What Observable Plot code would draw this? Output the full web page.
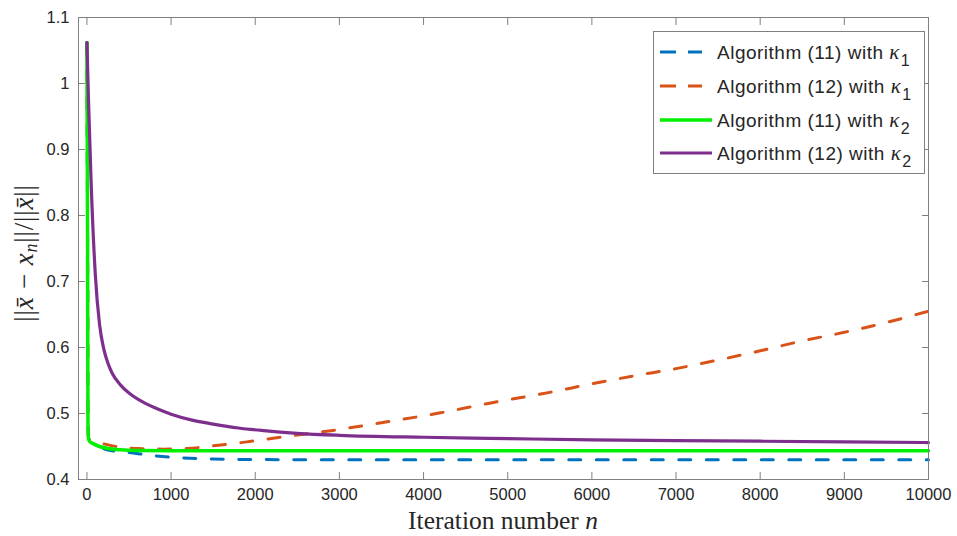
<!DOCTYPE html>
<html>
<head>
<meta charset="utf-8">
<script src="https://cdn.jsdelivr.net/npm/d3@7"></script>
<script src="https://cdn.jsdelivr.net/npm/@observablehq/plot@0.6"></script>
<style>
  body { margin: 0; background: #fff; }
  #chart { width: 957px; height: 536px; }
</style>
</head>
<body>
<div id="chart"></div>
<script>
// ---- data ----
const xTicks = [0, 1000, 2000, 3000, 4000, 5000, 6000, 7000, 8000, 9000, 10000];
const yTicks = [0.4, 0.5, 0.6, 0.7, 0.8, 0.9, 1, 1.1];

// Algorithm (11) with kappa_1 (blue dashed)
const blueN = [0, 8, 12, 20, 100, 250, 500, 800, 1100, 1500, 2000, 3000, 5000, 7000, 10000];
const blueV = [1.062, 0.75, 0.5, 0.462, 0.455, 0.4445, 0.441, 0.436, 0.433, 0.431, 0.4302, 0.430, 0.430, 0.430, 0.430];

// Algorithm (12) with kappa_1 (orange dashed)
const orangeN = [0, 8, 12, 20, 100, 200, 400, 600, 900, 1200, 1500, 1900, 2300, 2900, 3500, 4200, 4800, 5500, 6000, 6500, 7000, 7500, 8000, 8500, 9000, 9500, 10000];
const orangeV = [1.062, 0.75, 0.5, 0.462, 0.457, 0.454, 0.449, 0.447, 0.446, 0.447, 0.451, 0.457, 0.464, 0.474, 0.486, 0.501, 0.516, 0.532, 0.545, 0.557, 0.568, 0.581, 0.595, 0.610, 0.623, 0.638, 0.655];

// Algorithm (11) with kappa_2 (green solid)
const greenN = [0, 8, 12, 16, 30, 80, 150, 250, 400, 600, 1000, 3000, 10000];
const greenV = [1.062, 0.75, 0.5, 0.465, 0.458, 0.454, 0.450, 0.447, 0.445, 0.444, 0.4437, 0.4435, 0.4435];

// Algorithm (12) with kappa_2 (purple solid)
const purpleN = [0, 20, 50, 100, 150, 200, 250, 300, 400, 500, 600, 700, 800, 1000, 1250, 1500, 1800, 2100, 2500, 3000, 4000, 5000, 6000, 7000, 8000, 9000, 10000];
const purpleV = [1.062, 0.97, 0.85, 0.71, 0.635, 0.598, 0.576, 0.561, 0.543, 0.531, 0.522, 0.515, 0.509, 0.499, 0.490, 0.484, 0.478, 0.474, 0.470, 0.467, 0.464, 0.462, 0.460, 0.459, 0.458, 0.457, 0.456];

const seriesNames = ["Algorithm (11) with ", "Algorithm (12) with ", "Algorithm (11) with ", "Algorithm (12) with "];
const seriesSub = ["1", "1", "2", "2"];
const seriesColors = ["#0072BD", "#D95319", "#00F000", "#7E2F8E"];
const seriesDash = ["12,15.5", "12,15.5", null, null];

const toRows = (N, V) => N.map((n, i) => ({n, v: V[i]}));
const blue = toRows(blueN, blueV);
const orange = toRows(orangeN, orangeV);
const green = toRows(greenN, greenV);
const purple = toRows(purpleN, purpleV);

const frameColor = "#808080";
const textColor = "#262626";
const W = 957, H = 536, mL = 78, mR = 29, mT = 17, mB = 57;
const tickLen = 7;
const blank = () => "";

const chart = Plot.plot({
  width: W,
  height: H,
  marginLeft: mL,
  marginRight: mR,
  marginTop: mT,
  marginBottom: mB,
  style: {fontFamily: "'Liberation Sans', Arial, Helvetica, sans-serif", fontSize: "16.5px", color: textColor, background: "#fff"},
  x: {domain: [-100, 10000], label: null},
  y: {domain: [0.4, 1.1], label: null},
  marks: [
    Plot.line(blue, {x: "n", y: "v", stroke: seriesColors[0], strokeWidth: 3, strokeDasharray: seriesDash[0], curve: "monotone-x"}),
    Plot.line(orange, {x: "n", y: "v", stroke: seriesColors[1], strokeWidth: 3, strokeDasharray: seriesDash[1], curve: "monotone-x"}),
    Plot.line(green, {x: "n", y: "v", stroke: seriesColors[2], strokeWidth: 3.5, curve: "monotone-x"}),
    Plot.line(purple, {x: "n", y: "v", stroke: seriesColors[3], strokeWidth: 3.2, curve: "monotone-x"}),
    // inward tick marks on all four sides (axes shifted into the frame by their tick length)
    Plot.axisX(xTicks, {anchor: "bottom", tickSize: tickLen, dy: -tickLen, stroke: frameColor, label: null, tickFormat: blank}),
    Plot.axisX(xTicks, {anchor: "top", tickSize: tickLen, dy: tickLen, stroke: frameColor, label: null, tickFormat: blank}),
    Plot.axisY(yTicks, {anchor: "left", tickSize: tickLen, dx: tickLen, stroke: frameColor, label: null, tickFormat: blank}),
    Plot.axisY(yTicks, {anchor: "right", tickSize: tickLen, dx: -tickLen, stroke: frameColor, label: null, tickFormat: blank}),
    // tick labels
    Plot.axisX(xTicks, {anchor: "bottom", tickSize: 0, tickPadding: 9, fill: textColor, label: null, tickFormat: d => String(d)}),
    Plot.axisY(yTicks, {anchor: "left", tickSize: 0, tickPadding: 9, fill: textColor, label: null, tickFormat: d => String(d)}),
    Plot.frame({stroke: frameColor, strokeWidth: 1})
  ]
});

document.getElementById("chart").appendChild(chart);

const svg = d3.select(chart);
const serif = "'Liberation Serif', 'Times New Roman', serif";

// x label
const xl = svg.append("text")
  .attr("x", 503).attr("y", 529)
  .attr("text-anchor", "middle")
  .attr("font-family", serif).attr("font-size", 25.5)
  .attr("fill", textColor);
xl.append("tspan").text("Iteration number ");
xl.append("tspan").attr("font-style", "italic").text("n");

// y label
const yl = svg.append("text")
  .attr("transform", "translate(33,253) rotate(-90)")
  .attr("text-anchor", "middle")
  .attr("font-family", serif).attr("font-size", 27)
  .attr("letter-spacing", 0.8)
  .attr("fill", textColor);
yl.append("tspan").text("||");
yl.append("tspan").attr("font-style", "italic").text("x\u0304");
yl.append("tspan").text(" \u2212 ");
yl.append("tspan").attr("font-style", "italic").text("x");
yl.append("tspan").attr("font-style", "italic").attr("font-size", 18).attr("dy", 4).text("n");
yl.append("tspan").attr("dy", -4).text("||/||");
yl.append("tspan").attr("font-style", "italic").text("x\u0304");
yl.append("tspan").text("||");

// legend
const lg = svg.append("g").attr("text-anchor", "start");
lg.append("rect")
  .attr("x", 653.5).attr("y", 31.5).attr("width", 271).attr("height", 142)
  .attr("fill", "#fff").attr("stroke", frameColor).attr("stroke-width", 1);
const rowY = [52, 86, 120, 153];
seriesNames.forEach((name, i) => {
  const y = rowY[i];
  const ln = lg.append("line")
    .attr("y1", y).attr("y2", y)
    .attr("stroke", seriesColors[i]).attr("stroke-width", i === 2 ? 3.5 : 3);
  if (seriesDash[i]) ln.attr("x1", 660).attr("x2", 702).attr("stroke-dasharray", "16,12");
  else ln.attr("x1", 660).attr("x2", 712);
  const t = lg.append("text")
    .attr("x", 717).attr("y", y + 6.5)
    .attr("text-anchor", "start")
    .attr("font-family", "'Liberation Sans', Arial, sans-serif").attr("font-size", 19)
    .attr("letter-spacing", 0.5)
    .attr("fill", textColor);
  t.append("tspan").text(name);
  t.append("tspan").attr("font-family", serif).attr("font-style", "italic").attr("font-size", 21).text("\u03BA");
  t.append("tspan").attr("dy", 7).attr("dx", 1).attr("font-size", 16).text(seriesSub[i]);
});
</script>
</body>
</html>
